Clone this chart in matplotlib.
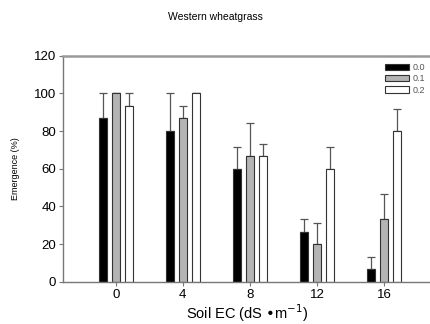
import matplotlib
matplotlib.use("Agg")
import matplotlib.pyplot as plt
import numpy as np

plt.rcParams['font.family'] = ['Liberation Sans', 'DejaVu Sans']

ec = [0, 4, 8, 12, 16]
series = ['0.0', '0.1', '0.2']
mean_00 = [86.7, 80.0, 60.0, 26.7, 6.7]
mean_01 = [100.0, 86.7, 66.7, 20.0, 33.3]
mean_02 = [93.3, 100.0, 66.7, 60.0, 80.0]
err_00 = [13.3, 20.0, 11.7, 6.7, 6.5]
err_01 = [0.0, 6.7, 17.8, 11.5, 13.2]
err_02 = [6.7, 0.0, 6.5, 11.7, 11.6]

means = [mean_00, mean_01, mean_02]
errs = [err_00, err_01, err_02]
colors = ['black', '#b4b4b4', 'white']

fig = plt.figure(figsize=(4.31, 3.24), dpi=100)
ax = fig.add_axes([0.146, 0.130, 0.854, 0.698])

x = np.array(ec, dtype=float)
offs = [-0.78, 0.0, 0.78]
w = 0.48
for m, e, c, o, lab in zip(means, errs, colors, offs, series):
    ax.bar(x + o, m, width=w, color=c, edgecolor='#333333', linewidth=0.8, label=lab, zorder=2)
    ax.errorbar(x + o, m, yerr=[np.zeros(len(e)), e], fmt='none', ecolor='#555555',
                elinewidth=0.9, capsize=3, capthick=0.9, zorder=1)

ax.set_xlim(-3.15, 18.8)
ax.set_ylim(0, 120)
ax.set_yticks([0, 20, 40, 60, 80, 100, 120])
ax.set_xticks(ec)
ax.tick_params(axis='both', labelsize=9.5, color='#777777', length=3, width=0.8, pad=2)
for s in ['left', 'bottom']:
    ax.spines[s].set_color('#777777')
    ax.spines[s].set_linewidth(1.0)
ax.spines['top'].set_color('#999999')
ax.spines['top'].set_linewidth(1.8)
ax.spines['right'].set_visible(False)

ax.set_ylabel('Emergence (%)', fontsize=6.5, labelpad=10)
ax.set_xlabel('Soil EC (dS \u2022m$^{-1}$)', fontsize=10.5, labelpad=1)
fig.text(0.5, 0.948, 'Western wheatgrass', ha='center', va='center', fontsize=7.5)

leg = ax.legend(loc='upper right', bbox_to_anchor=(1.0, 0.995), frameon=False,
                fontsize=6.5, handlelength=2.6, handleheight=0.7, labelspacing=0.25,
                handletextpad=0.4, borderpad=0.2, labelcolor='#555555')

fig.savefig('out.png', dpi=100)
